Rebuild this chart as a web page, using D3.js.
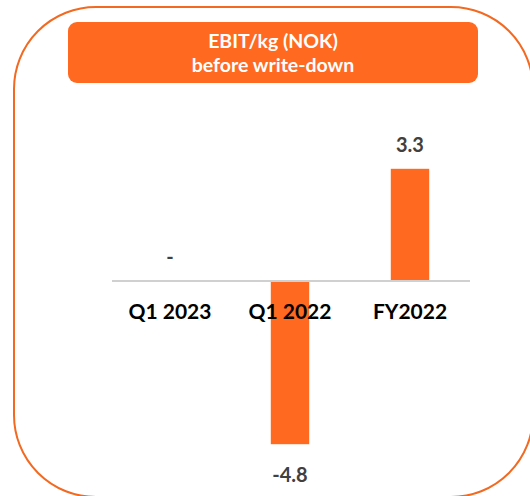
<!DOCTYPE html>
<html>
<head>
<meta charset="utf-8">
<script src="https://cdn.jsdelivr.net/npm/d3@7"></script>
<style>
  body { margin: 0; background: #fff; }
  svg { display: block; font-family: Lato, "Open Sans", sans-serif; }
</style>
</head>
<body>
<div id="chart"></div>
<script>
const categories = ["Q1 2023", "Q1 2022", "FY2022"];
const values = [0, -4.8, 3.3];
const valueLabels = ["-", "-4.8", "3.3"];
const titleLines = ["EBIT/kg (NOK)", "before write-down"];

const width = 530, height = 496;
const orange = "#FF6920";

const svg = d3.select("#chart")
    .append("svg")
    .attr("width", width)
    .attr("height", height);

// outer frame
svg.append("rect")
    .attr("x", 14).attr("y", 7)
    .attr("width", 519).attr("height", 490)
    .attr("rx", 82).attr("ry", 82)
    .attr("fill", "none")
    .attr("stroke", "#F26A22")
    .attr("stroke-width", 2);

// title box
svg.append("rect")
    .attr("x", 68).attr("y", 22)
    .attr("width", 410).attr("height", 61)
    .attr("rx", 9)
    .attr("fill", orange);

svg.append("g")
    .selectAll("text")
    .data(titleLines)
    .enter().append("text")
    .attr("x", 273)
    .attr("y", (d, i) => 48 + i * 24)
    .attr("text-anchor", "middle")
    .attr("fill", "#fff")
    .style("font-weight", "bold")
    .style("font-size", "19.5px")
    .text(d => d);

const x = d3.scaleBand()
    .domain(categories)
    .range([110, 470])
    .paddingInner(0.68)
    .paddingOuter(0.34);

const y = d3.scaleLinear()
    .domain([-6, 4])
    .range([485, 145]);

const data = categories.map((c, i) => ({ cat: c, value: values[i], label: valueLabels[i] }));

svg.append("g")
    .selectAll("rect")
    .data(data)
    .enter().append("rect")
    .attr("x", d => x(d.cat))
    .attr("width", x.bandwidth())
    .attr("y", d => y(Math.max(0, d.value)))
    .attr("height", d => Math.abs(y(d.value) - y(0)))
    .attr("fill", orange);

// baseline
svg.append("line")
    .attr("x1", 112).attr("x2", 470)
    .attr("y1", y(0)).attr("y2", y(0))
    .attr("stroke", "#D0D0D0")
    .attr("stroke-width", 2);

// category labels
svg.append("g")
    .selectAll("text")
    .data(categories)
    .enter().append("text")
    .attr("x", d => x(d) + x.bandwidth() / 2)
    .attr("y", y(0) + 38)
    .attr("text-anchor", "middle")
    .attr("fill", "#000")
    .style("font-weight", "bold")
    .style("font-size", "21px")
    .text(d => d);

// value labels
svg.append("g")
    .selectAll("text")
    .data(data)
    .enter().append("text")
    .attr("x", d => x(d.cat) + x.bandwidth() / 2)
    .attr("y", d => d.value < 0 ? y(d.value) + 38 : y(d.value) - 17)
    .attr("text-anchor", "middle")
    .attr("fill", "#404040")
    .style("font-weight", "bold")
    .style("font-size", "20px")
    .text(d => d.label);
</script>
</body>
</html>
